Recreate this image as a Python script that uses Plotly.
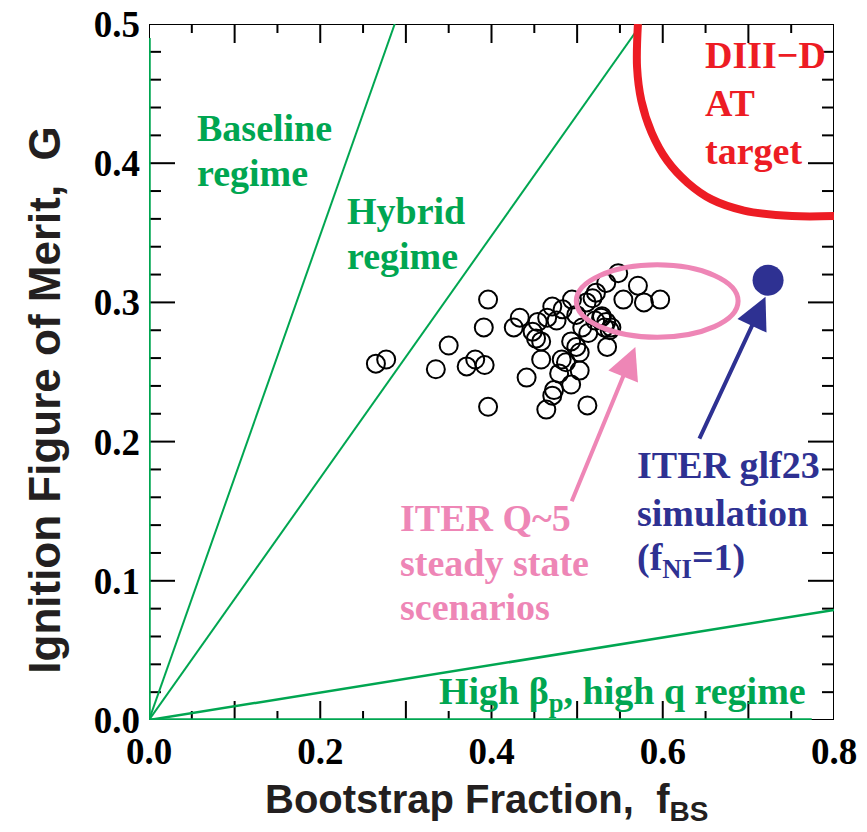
import plotly.graph_objects as go

# ---- data ----
fbs = [0.265, 0.277, 0.335, 0.350, 0.371, 0.381, 0.392, 0.396, 0.391, 0.396,
       0.548, 0.534, 0.571, 0.522, 0.554, 0.578, 0.597, 0.494, 0.511,
       0.529, 0.534, 0.532, 0.538, 0.521, 0.513, 0.535,
       0.483, 0.471, 0.465, 0.476, 0.454, 0.433, 0.426,
       0.448, 0.452, 0.458, 0.493, 0.499, 0.458, 0.487, 0.482, 0.479,
       0.441, 0.473, 0.471, 0.493, 0.464, 0.512, 0.503, 0.503,
       0.506, 0.499, 0.540, 0.528, 0.518]
G = [0.256, 0.259, 0.252, 0.269, 0.254, 0.259, 0.255, 0.302, 0.282, 0.225,
     0.321, 0.314, 0.312, 0.307, 0.302, 0.300, 0.302, 0.302, 0.300,
     0.290, 0.286, 0.282, 0.280, 0.287, 0.278, 0.268,
     0.295, 0.297, 0.289, 0.287, 0.286, 0.289, 0.282,
     0.279, 0.274, 0.272, 0.272, 0.268, 0.259, 0.257, 0.259, 0.249,
     0.246, 0.237, 0.233, 0.241, 0.223, 0.226, 0.264, 0.251,
     0.282, 0.291, 0.282, 0.289, 0.303]

# regime boundary lines through the origin
baseline_f = [0.0, 0.287]
baseline_g = [0.0, 0.5]
hybrid_f = [0.0, 0.575]
hybrid_g = [0.0, 0.5]
highbp_f = [0.0, 0.8]
highbp_g = [0.0, 0.079]
vert_f = [0.0, 0.0]
vert_g = [0.0, 0.49]
horiz_f = [0.0, 0.774]
horiz_g = [0.0, 0.0]

# DIII-D AT target curve
diiid_f = [0.571, 0.570, 0.575, 0.587, 0.605, 0.629, 0.657, 0.695, 0.751, 0.800]
diiid_g = [0.500, 0.469, 0.445, 0.422, 0.402, 0.386, 0.374, 0.366, 0.362, 0.362]

# ITER Q~5 ellipse bounds
iter_q5_f = [0.499, 0.688]
iter_q5_g = [0.275, 0.327]
iter_q5_arrow_tail = [0.493, 0.156]
iter_q5_arrow_tip = [0.568, 0.268]

# ITER glf23 simulation point
glf23_f = [0.723]
glf23_g = [0.316]
glf23_arrow_tail = [0.642, 0.201]
glf23_arrow_tip = [0.720, 0.304]

# axes
x_range = [0.0, 0.8]
y_range = [0.0, 0.5]
x_tickvals = [0.0, 0.2, 0.4, 0.6, 0.8]
x_ticktext = ["0.0", "0.2", "0.4", "0.6", "0.8"]
y_tickvals = [0.0, 0.1, 0.2, 0.3, 0.4, 0.5]
y_ticktext = ["0.0", "0.1", "0.2", "0.3", "0.4", "0.5"]
x_major_ticks = [0.0, 0.1, 0.2, 0.3, 0.4, 0.5, 0.6, 0.7, 0.8]
x_minor_ticks = [0.05, 0.15, 0.25, 0.35, 0.45, 0.55, 0.65, 0.75]
y_major_ticks = [0.0, 0.1, 0.2, 0.3, 0.4, 0.5]
y_minor_ticks = [0.02, 0.04, 0.06, 0.08, 0.12, 0.14, 0.16, 0.18, 0.22, 0.24, 0.26, 0.28,
                 0.32, 0.34, 0.36, 0.38, 0.42, 0.44, 0.46, 0.48]

GREEN = "#00A651"
RED = "#ED1C24"
PINK = "#EE86B6"
BLUE = "#2E3192"
SERIF = "Liberation Serif"
NARROW = "Liberation Sans Narrow, Liberation Sans, Arial"

# layout geometry (pixels)
FIG_W, FIG_H = 867, 832
M_L, M_R, M_T, M_B = 149, 33, 24, 112
plot_w = FIG_W - M_L - M_R
plot_h = FIG_H - M_T - M_B
px_x = (x_range[1] - x_range[0]) / plot_w   # data units per pixel, horizontal
px_y = (y_range[1] - y_range[0]) / plot_h   # data units per pixel, vertical

fig = go.Figure()

# plot frame
fig.add_trace(go.Scatter(x=[x_range[0], x_range[1], x_range[1], x_range[0], x_range[0]],
                         y=[y_range[0], y_range[0], y_range[1], y_range[1], y_range[0]],
                         mode="lines", line=dict(color="black", width=2),
                         cliponaxis=False, showlegend=False, hoverinfo="skip"))

# inward tick marks on all four sides
tx, ty = [], []
for vals, ln in [(x_major_ticks, 19), (x_minor_ticks, 9)]:
    for v in vals:
        tx += [v, v, None, v, v, None]
        ty += [y_range[0], y_range[0] + ln * px_y, None, y_range[1], y_range[1] - ln * px_y, None]
for vals, ln in [(y_major_ticks, 26), (y_minor_ticks, 12)]:
    for v in vals:
        tx += [x_range[0], x_range[0] + ln * px_x, None, x_range[1], x_range[1] - ln * px_x, None]
        ty += [v, v, None, v, v, None]
fig.add_trace(go.Scatter(x=tx, y=ty, mode="lines", line=dict(color="black", width=2),
                         cliponaxis=False, connectgaps=False,
                         showlegend=False, hoverinfo="skip"))

for fx, gy, w in [(baseline_f, baseline_g, 2), (hybrid_f, hybrid_g, 2), (highbp_f, highbp_g, 2.5),
                  (vert_f, vert_g, 3.5), (horiz_f, horiz_g, 3.5)]:
    fig.add_trace(go.Scatter(x=fx, y=gy, mode="lines", line=dict(color=GREEN, width=w),
                             showlegend=False, hoverinfo="skip"))

fig.add_trace(go.Scatter(x=diiid_f, y=diiid_g, mode="lines",
                         line=dict(color=RED, width=8, shape="spline"),
                         showlegend=False, hoverinfo="skip"))

fig.add_trace(go.Scatter(x=fbs, y=G, mode="markers",
                         marker=dict(symbol="circle-open", size=18, color="black",
                                     line=dict(color="black", width=2)),
                         showlegend=False))

fig.add_trace(go.Scatter(x=glf23_f, y=glf23_g, mode="markers",
                         marker=dict(symbol="circle", size=31, color=BLUE),
                         showlegend=False))

fig.add_shape(type="circle", xref="x", yref="y",
              x0=iter_q5_f[0], x1=iter_q5_f[1], y0=iter_q5_g[0], y1=iter_q5_g[1],
              line=dict(color=PINK, width=5))

# arrows
for tip, tail, col in [(iter_q5_arrow_tip, iter_q5_arrow_tail, PINK),
                       (glf23_arrow_tip, glf23_arrow_tail, BLUE)]:
    fig.add_annotation(x=tip[0], y=tip[1], ax=tail[0], ay=tail[1],
                       xref="x", yref="y", axref="x", ayref="y",
                       text="", showarrow=True, arrowhead=2, arrowsize=1.6, arrowwidth=4,
                       arrowcolor=col, standoff=0)

# text labels
labels = [
    ("Baseline", 0.054, 0.425, GREEN),
    ("regime", 0.054, 0.393, GREEN),
    ("Hybrid", 0.229, 0.366, GREEN),
    ("regime", 0.229, 0.333, GREEN),
    ("DIII\u2212D", 0.647, 0.478, RED),
    ("AT", 0.647, 0.443, RED),
    ("target", 0.647, 0.409, RED),
    ("ITER Q~5", 0.291, 0.145, PINK),
    ("steady state", 0.291, 0.113, PINK),
    ("scenarios", 0.291, 0.081, PINK),
    ("ITER glf23", 0.568, 0.183, BLUE),
    ("simulation", 0.568, 0.149, BLUE),
    ("(f<sub>NI</sub>=1)", 0.568, 0.115, BLUE),
    ("High \u03b2<sub>p</sub>, high q regime", 0.336, 0.019, GREEN),
]
for txt, lx, ly, col in labels:
    fig.add_annotation(x=lx, y=ly, xref="x", yref="y", text=txt, showarrow=False,
                       xanchor="left", yanchor="middle",
                       font=dict(family=SERIF, size=38, color=col, weight="bold"))

# axis titles
fig.add_annotation(x=-0.152, y=0.46, xref="paper", yref="paper",
                   text="Ignition Figure of Merit,  G", textangle=-90, showarrow=False,
                   xanchor="center", yanchor="middle",
                   font=dict(family=NARROW, size=44, color="#231F20", weight="bold"))
fig.add_annotation(x=0.493, y=-0.118, xref="paper", yref="paper",
                   text="Bootstrap Fraction,  f<sub>BS</sub>", showarrow=False,
                   xanchor="center", yanchor="middle",
                   font=dict(family=NARROW, size=40, color="#231F20", weight="bold"))

axis_common = dict(showline=False, ticks="", showgrid=False, zeroline=False,
                   automargin=False,
                   tickfont=dict(family=SERIF, size=37, color="black", weight="bold"))

fig.update_layout(
    xaxis=dict(range=x_range, tickvals=x_tickvals, ticktext=x_ticktext,
               ticklabelstandoff=6, **axis_common),
    yaxis=dict(range=y_range, tickvals=y_tickvals, ticktext=y_ticktext,
               ticklabelstandoff=8, **axis_common),
)

fig.update_layout(width=FIG_W, height=FIG_H, margin=dict(l=M_L, r=M_R, t=M_T, b=M_B),
                  paper_bgcolor="white", plot_bgcolor="white", showlegend=False)

# remove the page body's default 8px margin so the figure sits at the window's corner
fig.write_html("out.html", config={"displayModeBar": False},
               post_script="document.body.style.margin='0';document.body.style.overflow='hidden';")
